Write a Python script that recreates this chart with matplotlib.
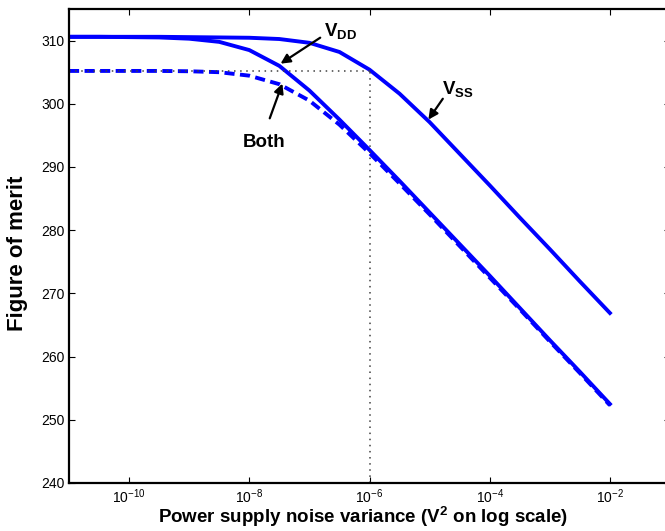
"""Figure of merit versus power supply noise variance (V_DD, V_SS, both)."""

import matplotlib
matplotlib.use("Agg")
import matplotlib.pyplot as plt
import numpy as np

# Section: values (half-decade samples).
log_var = [-11, -10.5, -10, -9.5, -9, -8.5, -8, -7.5, -7, -6.5,
           -6, -5.5, -5, -4.5, -4, -3.5, -3, -2.5, -2]
fom_vdd = [310.6, 310.6, 310.55, 310.5, 310.3, 309.8, 308.5, 306.0, 302.1, 297.5,
           292.7, 287.8, 282.8, 277.8, 272.8, 267.7, 262.6, 257.6, 252.5]
fom_vss = [310.6, 310.6, 310.6, 310.6, 310.55, 310.5, 310.45, 310.25, 309.65, 308.2,
           305.4, 301.6, 297.1, 292.1, 287.1, 282.0, 277.0, 271.9, 266.9]
fom_both = [305.2, 305.2, 305.2, 305.2, 305.15, 305.0, 304.45, 303.1, 300.5, 296.7,
            292.2, 287.4, 282.5, 277.5, 272.5, 267.5, 262.4, 257.4, 252.3]
ref_var = 1e-6
ref_fom = 305.2
x_ticks = [1e-10, 1e-8, 1e-6, 1e-4, 1e-2]
y_ticks = [240, 250, 260, 270, 280, 290, 300, 310]

noise_var = 10.0 ** np.array(log_var)

# Section: fonts close to the Helvetica look of the original.
plt.rcParams["font.family"] = ["Liberation Sans", "DejaVu Sans"]
plt.rcParams["mathtext.fontset"] = "custom"
plt.rcParams["mathtext.rm"] = "Liberation Sans"
plt.rcParams["mathtext.bf"] = "Liberation Sans:bold"

fig = plt.figure(figsize=(6.65, 5.31), dpi=100)
ax = fig.add_axes([69 / 665, 48 / 531, 601 / 665, 474 / 531])

blue = "#0000ff"
ax.plot(noise_var, fom_vdd, color=blue, lw=2.8, solid_joinstyle="miter")
ax.plot(noise_var, fom_vss, color=blue, lw=2.8, solid_joinstyle="miter")
ax.plot(noise_var, fom_both, color=blue, lw=2.8, dashes=(2.6, 1.4))

# dotted guide lines at the "Both" plateau and 1e-6
ax.plot([noise_var[0], ref_var], [ref_fom, ref_fom], color="0.25", lw=1.1, ls=(0, (1, 3)))
ax.plot([ref_var, ref_var], [240, ref_fom], color="0.25", lw=1.1, ls=(0, (1, 3)))

ax.set_xscale("log")
ax.set_xlim(1e-11, 1e-1)
ax.set_ylim(240, 315)
ax.set_xticks(x_ticks)
ax.set_xticklabels([f"$10^{{{int(np.log10(t))}}}$" for t in x_ticks])
ax.xaxis.set_minor_locator(matplotlib.ticker.NullLocator())
ax.set_yticks(y_ticks)
ax.tick_params(direction="in", length=4.5, width=0.8, labelsize=10,
               top=True, right=True, pad=3)
for spine in ax.spines.values():
    spine.set_linewidth(1.6)

ax.set_xlabel(r"Power supply noise variance (V$^{\mathbf{2}}$ on log scale)",
              fontsize=13.5, fontweight="bold")
ax.xaxis.set_label_coords(0.49, -0.045)
ax.set_ylabel("Figure of merit", fontsize=16, fontweight="bold")
ax.yaxis.set_label_coords(-0.068, 0.485)

# Section: annotations with arrows.
arrow = dict(arrowstyle="-|>", color="black", lw=1.6, mutation_scale=14, shrinkA=0, shrinkB=0)
ax.annotate("", xy=(10 ** -7.48, 306.35), xytext=(10 ** -6.82, 310.46), arrowprops=arrow)
ax.annotate("", xy=(10 ** -5.02, 297.5), xytext=(10 ** -4.78, 300.8), arrowprops=arrow)
ax.annotate("", xy=(10 ** -7.45, 303.2), xytext=(10 ** -7.66, 297.7), arrowprops=arrow)

ax.text(10 ** -6.75, 310.77, r"$\mathbf{V_{DD}}$", fontsize=13.5, ha="left", va="baseline")
ax.text(10 ** -4.79, 301.6, r"$\mathbf{V_{SS}}$", fontsize=13.5, ha="left", va="baseline")
ax.text(10 ** -8.11, 293.1, "Both", fontsize=13.5, fontweight="bold", ha="left", va="baseline")

fig.savefig("out.png", dpi=100)
print("Saved out.png")
